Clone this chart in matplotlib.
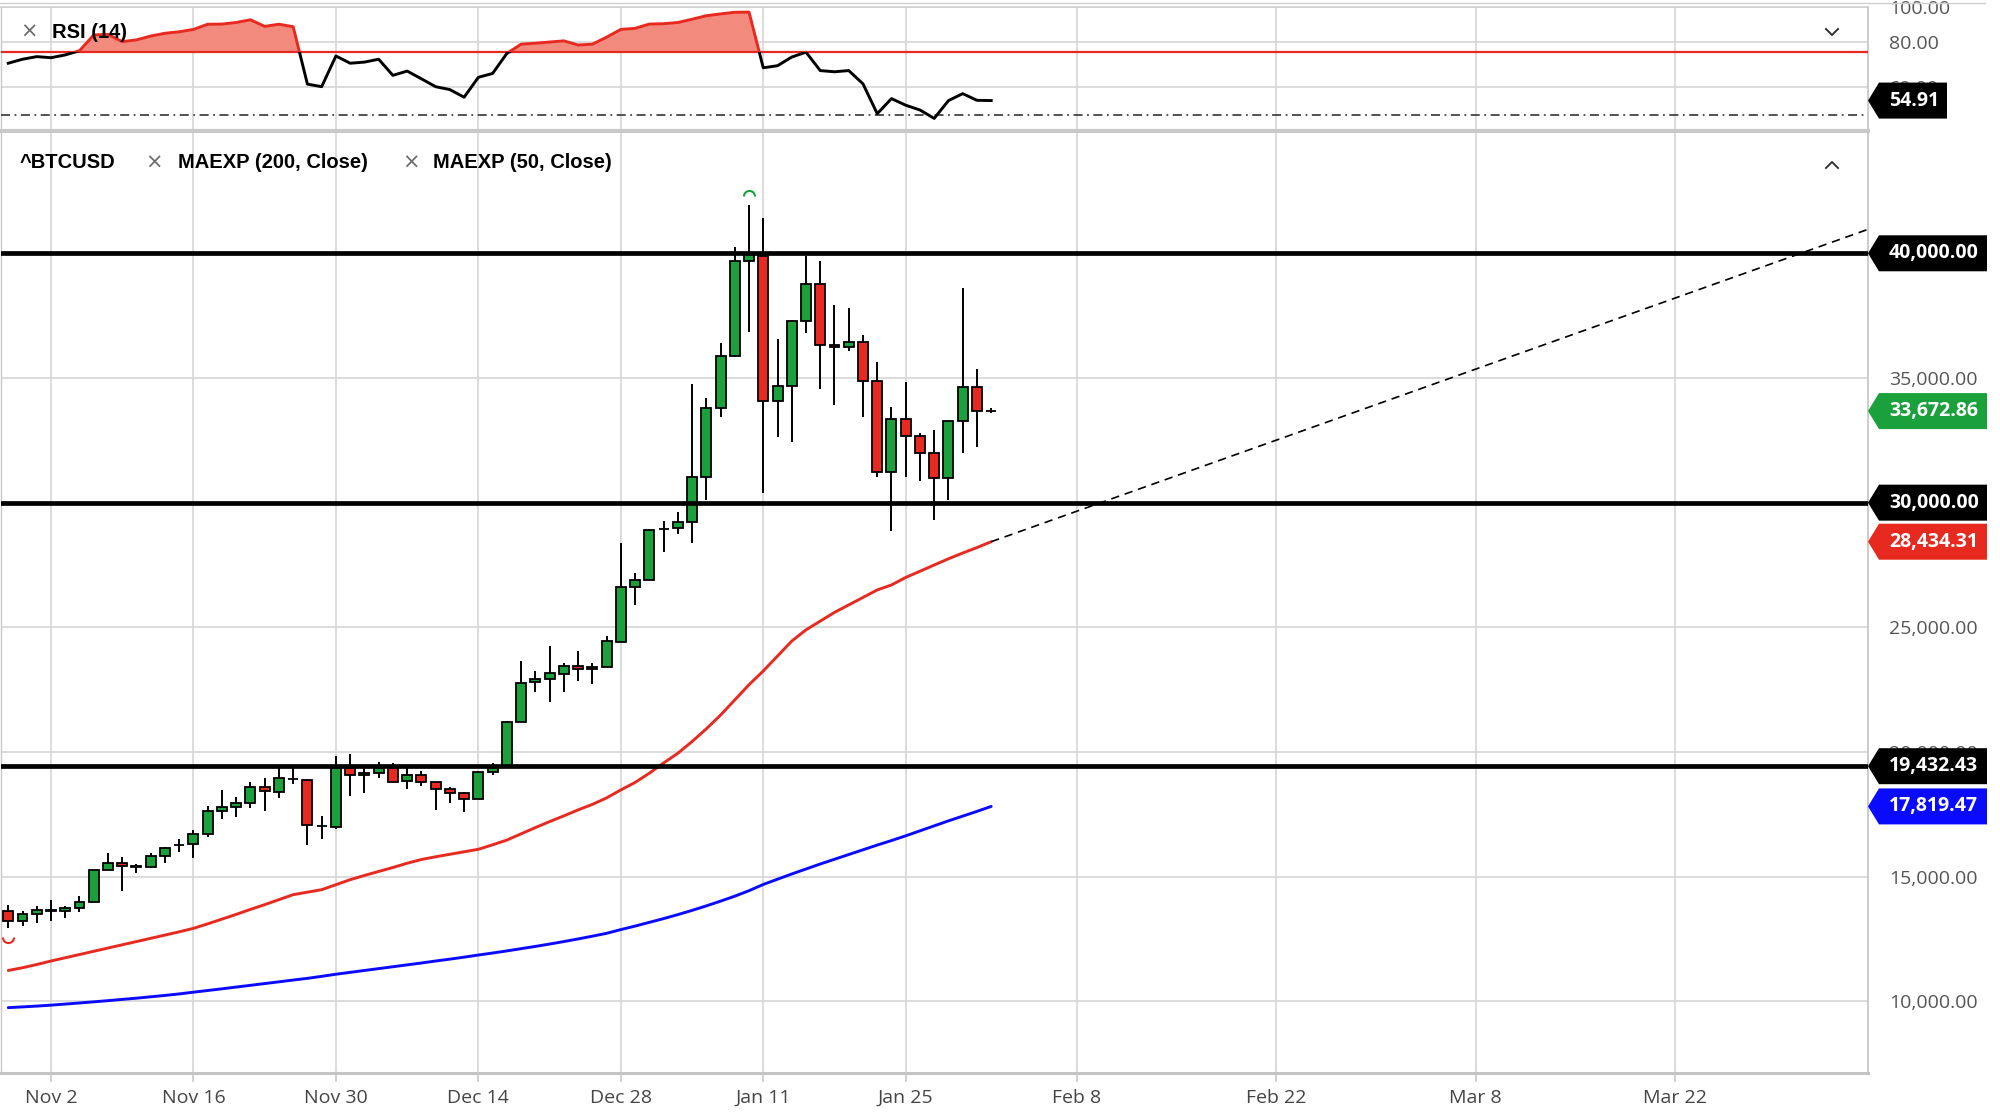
import numpy as np
import pandas as pd
import matplotlib
matplotlib.use("Agg")
import matplotlib.pyplot as plt
from matplotlib.patches import Polygon, Rectangle
from matplotlib.lines import Line2D
from matplotlib.path import Path
from matplotlib.transforms import IdentityTransform, offset_copy
from matplotlib.ticker import FuncFormatter, NullLocator

# ---------------- data ----------------
start_date = "2020-10-28"
end_date = "2021-02-02"

opens = [13639, 13225, 13505, 13660, 13639, 13760, 14000, 15257, 15537, 15400,
         15377, 15845, 16270, 16299, 16700, 17636, 17783, 17943, 18585, 18411,
         18930, 18879, 17050, 17008, 19374, 19079, 19173, 19347, 18839, 19079,
         18785, 18518, 18344, 18104, 19213, 19400, 21218, 22795, 22916, 23140,
         23440, 23317, 23397, 24413, 26605, 26899, 28950, 28997, 29238, 31042,
         33783, 35881, 39691, 39891, 34090, 34692, 37285, 38769, 36336, 36229,
         36429, 34892, 31216, 33342, 32686, 32005, 31002, 33275, 34625, 33676]
highs = [13866, 13639, 13840, 14067, 13826, 14241, 15270, 15938, 15805, 15497,
         15965, 16179, 16500, 16874, 17836, 18478, 18184, 18785, 18973, 19347,
         19347, 18900, 17435, 19841, 19922, 19347, 19587, 19547, 19347, 19253,
         18790, 18612, 18411, 19253, 19547, 21258, 23664, 23250, 24266, 23570,
         24040, 23557, 24653, 28369, 27166, 28931, 29278, 29625, 34758, 34184,
         36416, 40266, 41936, 41402, 36576, 37325, 39891, 39691, 37913, 37820,
         36737, 35654, 33849, 34852, 32780, 32914, 33275, 38595, 35347, 33780]
lows = [12931, 13024, 13158, 13238, 13332, 13572, 14000, 15257, 14441, 15136,
        15337, 15537, 16005, 15738, 16607, 17328, 17382, 17743, 17649, 18144,
        18705, 16272, 16513, 16901, 18237, 18371, 18946, 18745, 18518, 18638,
        17676, 17943, 17609, 18104, 19079, 19400, 21218, 22394, 22020, 22410,
        22862, 22729, 23397, 24413, 25896, 26899, 28035, 28743, 28396, 30107,
        33422, 35828, 36830, 30374, 32646, 32446, 36790, 34545, 33903, 36095,
        33422, 31042, 28877, 31042, 30882, 29305, 30107, 32005, 32246, 33580]
closes = [13225, 13505, 13666, 13645, 13760, 14000, 15270, 15537, 15430, 15410,
          15831, 16139, 16280, 16700, 17636, 17783, 17943, 18612, 18438, 18946,
          18920, 17074, 17030, 19347, 19079, 19173, 19347, 18812, 19079, 18785,
          18518, 18344, 18104, 19213, 19373, 21218, 22782, 22916, 23156, 23440,
          23317, 23424, 24453, 26605, 26899, 28904, 28960, 29238, 31042, 33783,
          35881, 39691, 39998, 34090, 34692, 37285, 38769, 36336, 36229, 36429,
          34892, 31216, 33342, 32673, 32005, 31002, 33275, 34625, 33676, 33672.86]

ema50 = [11240, 11350, 11480, 11620, 11750, 11880, 12010, 12140, 12270, 12400,
         12530, 12660, 12790, 12930, 13110, 13300, 13490, 13690, 13880, 14080,
         14280, 14380, 14480, 14680, 14880, 15050, 15210, 15370, 15540, 15690,
         15800, 15900, 16000, 16100, 16280, 16470, 16720, 16970, 17210, 17440,
         17680, 17900, 18160, 18480, 18780, 19150, 19560, 19950, 20420, 20930,
         21480, 22090, 22700, 23250, 23850, 24450, 24900, 25250, 25600, 25900,
         26200, 26500, 26700, 27000, 27250, 27500, 27750, 27980, 28200, 28434.31]
ema200 = [9750, 9780, 9812, 9850, 9893, 9937, 9983, 10030, 10080, 10130,
          10185, 10240, 10300, 10370, 10437, 10505, 10575, 10645, 10715, 10785,
          10857, 10925, 11005, 11090, 11165, 11240, 11315, 11390, 11465, 11540,
          11620, 11695, 11775, 11860, 11940, 12025, 12115, 12205, 12300, 12400,
          12505, 12615, 12730, 12880, 13020, 13170, 13320, 13480, 13650, 13830,
          14020, 14220, 14440, 14690, 14900, 15110, 15310, 15510, 15700, 15890,
          16080, 16270, 16450, 16640, 16840, 17040, 17240, 17430, 17620, 17819.47]
rsi = [69.7, 71.5, 72.7, 72.2, 73.5, 75.5, 83.5, 83.8, 80.0, 80.9,
       82.9, 84.4, 85.2, 86.5, 89.4, 89.5, 90.4, 92.0, 88.2, 89.4,
       88.0, 61.0, 60.0, 73.0, 69.7, 70.2, 71.5, 64.5, 66.3, 63.1,
       60.0, 58.9, 56.1, 63.7, 65.3, 74.2, 78.7, 79.2, 79.8, 80.4,
       78.3, 78.7, 82.3, 86.5, 87.1, 89.5, 89.7, 90.4, 92.3, 94.4,
       95.5, 96.5, 96.6, 67.7, 68.6, 72.5, 74.8, 66.5, 66.0, 66.5,
       61.1, 50.5, 55.6, 53.3, 51.7, 49.0, 54.9, 57.4, 55.0, 54.91]

levels = [40000.00, 30000.00, 19432.43]
trend_x = [69, 130.5]
trend_y = [28434.31, 40950]
rsi_upper = 75
rsi_mid = 50
price_ticks = [10000, 15000, 20000, 25000, 30000, 35000, 40000]
rsi_ticks = [60, 80, 100]
tick_dates = ["2020-11-02", "2020-11-16", "2020-11-30", "2020-12-14", "2020-12-28",
              "2021-01-11", "2021-01-25", "2021-02-08", "2021-02-22", "2021-03-08",
              "2021-03-22"]

# ---------------- setup ----------------
W, H, DPI = 2000, 1118, 100
plt.rcParams['font.family'] = ['Open Sans', 'DejaVu Sans']

GREEN = '#1aa13b'
RED = '#e8291f'
BLUE = '#0a0aff'
GRID = '#d6d6d6'

O = np.array(opens, float); Hh = np.array(highs, float)
L = np.array(lows, float); C = np.array(closes, float)
e50 = np.array(ema50); e200 = np.array(ema200); r = np.array(rsi)

dates = pd.bdate_range(start_date, end_date)
x = np.arange(len(C))
last_date = dates[-1]
tick_pos, tick_lab = [], []
for d in pd.to_datetime(tick_dates):
    if d <= last_date:
        tick_pos.append(int(np.where(dates == d)[0][0]))
    else:
        tick_pos.append(len(C) - 1 + (d - last_date).days)
    tick_lab.append(f"{d:%b} {d.day}")

XMIN, XMAX = -0.51, 130.55

fig = plt.figure(figsize=(W / DPI, H / DPI), dpi=DPI)
fig.patch.set_facecolor('white')


def px_rect(left, top, right, bottom):
    return [left / W, 1 - bottom / H, (right - left) / W, (bottom - top) / H]


ax_r = fig.add_axes(px_rect(1, 6.7, 1868, 130.7))
ax = fig.add_axes(px_rect(1, 133, 1868, 1072.7))

# ---------------- main panel ----------------
ax.set_xlim(XMIN, XMAX)
ax.set_ylim(7141, 44824)
ax.set_axisbelow(True)
ax.set_xticks(tick_pos)
ax.set_xticklabels(tick_lab)
ax.set_yticks(price_ticks)
ax.yaxis.set_major_formatter(FuncFormatter(lambda v, p: f"{v:,.2f}"))
ax.yaxis.tick_right()
ax.grid(True, color=GRID, lw=1.2)
ax.tick_params(axis='x', length=6.5, width=1.2, color='#c8c8c8', pad=5,
               labelsize=14, labelcolor='#444444')
ax.tick_params(axis='y', length=0, pad=15.1, labelsize=14, labelcolor='#555555')
ax.spines['top'].set_visible(False)
ax.spines['bottom'].set_color('#c4c4c4'); ax.spines['bottom'].set_linewidth(2.2)
ax.spines['right'].set_color('#c8c8c8'); ax.spines['right'].set_linewidth(1.3)
ax.spines['left'].set_color('#c8c8c8'); ax.spines['left'].set_linewidth(1.0)

up = C >= O
colors = np.where(up, GREEN, RED)
ax.vlines(x, L, Hh, color='black', lw=1.4, zorder=3)
ax.bar(x, np.abs(C - O), bottom=np.minimum(O, C), width=0.7, color=colors,
       edgecolor='black', linewidth=1.3, zorder=4)

ax.plot(x, e50, color=RED, lw=2.1, zorder=5, solid_capstyle='round')
ax.plot(x, e200, color=BLUE, lw=2.1, zorder=5, solid_capstyle='round')
ax.plot(trend_x, trend_y, color='black', lw=1.2, ls=(0, (5, 3.5)), zorder=5)
for lv in levels:
    ax.axhline(lv, color='black', lw=3.4, zorder=6)

# high / low markers
arc_up = Path.arc(0, 180)
arc_dn = Path.arc(180, 360)
ih, il = int(np.argmax(Hh)), int(np.argmin(L))
ax.plot([ih], [Hh[ih]], marker=arc_up, ms=8, mfc='none', mec=GREEN, mew=1.5,
        ls='none', transform=offset_copy(ax.transData, fig=fig, y=9, units='dots'), zorder=7)
ax.plot([il], [L[il]], marker=arc_dn, ms=8, mfc='none', mec=RED, mew=1.5,
        ls='none', transform=offset_copy(ax.transData, fig=fig, y=-9, units='dots'), zorder=7)

# ---------------- RSI panel ----------------
ax_r.set_yscale('log')
ax_r.set_xlim(XMIN, XMAX)
ax_r.set_ylim(45.3, 100)
ax_r.set_axisbelow(True)
ax_r.set_xticks(tick_pos)
ax_r.set_yticks(rsi_ticks)
ax_r.yaxis.set_minor_locator(NullLocator())
ax_r.yaxis.set_major_formatter(FuncFormatter(lambda v, p: f"{v:.2f}"))
ax_r.yaxis.tick_right()
ax_r.grid(True, color=GRID, lw=1.2)
ax_r.tick_params(axis='x', length=0, labelbottom=False)
ax_r.tick_params(axis='y', which='both', length=0, pad=15.1, labelsize=14,
                 labelcolor='#555555')
ax_r.spines['bottom'].set_color('#c8c8c8'); ax_r.spines['bottom'].set_linewidth(3)
ax_r.spines['top'].set_color('#cfcfcf'); ax_r.spines['top'].set_linewidth(1.2)
ax_r.spines['right'].set_color('#c8c8c8'); ax_r.spines['right'].set_linewidth(1.3)
ax_r.spines['left'].set_color('#c8c8c8'); ax_r.spines['left'].set_linewidth(1.0)

ax_r.fill_between(x, r, rsi_upper, where=r >= rsi_upper, interpolate=True,
                  color='#f28b7e', lw=0, zorder=2)
ax_r.axhline(rsi_upper, color=RED, lw=1.6, zorder=3)
ax_r.axhline(rsi_mid, color='#444444', lw=1.3, ls=(0, (5, 2.5, 1, 2.5)), zorder=3)
below = Rectangle((XMIN, 1), XMAX - XMIN, rsi_upper - 1, transform=ax_r.transData)
above = Rectangle((XMIN, rsi_upper), XMAX - XMIN, 1000, transform=ax_r.transData)
lb, = ax_r.plot(x, r, color='black', lw=2.1, zorder=4)
lb.set_clip_path(below)
lr, = ax_r.plot(x, r, color=RED, lw=2.1, zorder=4)
lr.set_clip_path(above)

# ---------------- tags ----------------
ID = IdentityTransform()
XR = 1868


def tag(axis, value, color, right):
    yd = axis.transData.transform((0, value))[1]
    pts = [(XR, yd), (XR + 11, yd + 18), (right, yd + 18), (right, yd - 18), (XR + 11, yd - 18)]
    fig.add_artist(Polygon(pts, closed=True, transform=ID, facecolor=color,
                           edgecolor='none', zorder=5))
    fig.text(1889, yd, f"{value:,.2f}", transform=ID, ha='left', va='center',
             color='white', fontsize=14, fontweight='bold', zorder=6)


for lv in levels:
    tag(ax, lv, 'black', 1987)
tag(ax, C[-1], GREEN, 1987)
tag(ax, e50[-1], RED, 1987)
tag(ax, e200[-1], BLUE, 1987)
tag(ax_r, r[-1], 'black', 1947)

# ---------------- headers / decorations ----------------
hdr = dict(transform=ID, va='center', fontsize=14.5, fontweight='bold',
           family=['Liberation Sans', 'DejaVu Sans'], color='black')
xs = dict(transform=ID, va='center', ha='center', fontsize=15, color='#6b6b6b',
          family=['DejaVu Sans'])
fig.text(29, H - 32, "×", **xs)
fig.text(52, H - 32, "RSI (14)", **hdr)
fig.text(20, H - 163, "^BTCUSD", **hdr)
fig.text(154, H - 163, "×", **xs)
fig.text(178, H - 163, "MAEXP (200, Close)", **hdr)
fig.text(411, H - 163, "×", **xs)
fig.text(433, H - 163, "MAEXP (50, Close)", **hdr)

fig.add_artist(Line2D([1826, 1832, 1838], [H - 29, H - 35, H - 29], transform=ID,
                      color='#333333', lw=1.4))
fig.add_artist(Line2D([1826, 1832, 1838], [H - 168, H - 162, H - 168], transform=ID,
                      color='#333333', lw=1.4))
fig.add_artist(Line2D([0, 1985], [H - 2.7, H - 2.7], transform=ID, color='#cfcfcf', lw=1.0))

fig.savefig("out.png", dpi=DPI, facecolor='white')
